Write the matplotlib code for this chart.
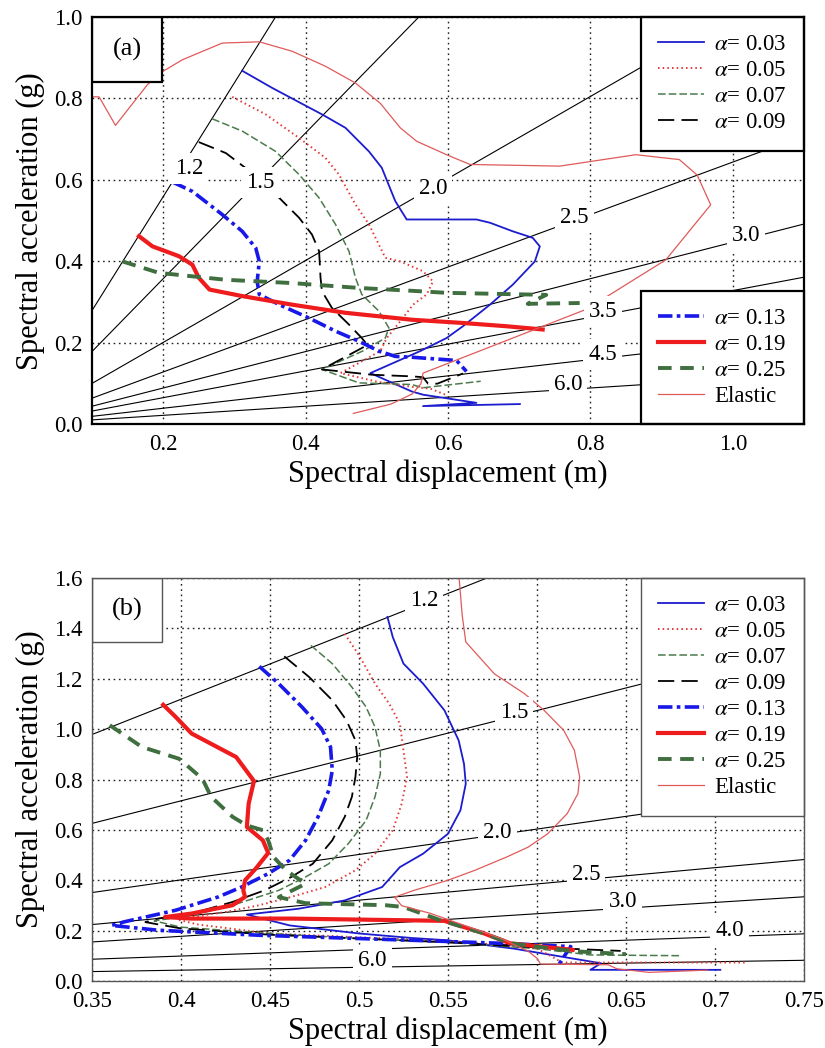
import matplotlib.pyplot as plt
import numpy as np
from matplotlib.patches import Rectangle
from matplotlib.ticker import FuncFormatter

plt.rcParams['font.family'] = ['Liberation Serif', 'DejaVu Serif']
plt.rcParams['mathtext.fontset'] = 'stix'

g = 9.81
names = [r'$\alpha$= 0.03', r'$\alpha$= 0.05', r'$\alpha$= 0.07', r'$\alpha$= 0.09',
         r'$\alpha$= 0.13', r'$\alpha$= 0.19', r'$\alpha$= 0.25', 'Elastic']

# ---- panel (a) curves: spectral displacement (m) / spectral acceleration (g)
a_sd_003 = [0.311, 0.353, 0.423, 0.456, 0.489, 0.507, 0.526, 0.542, 0.640, 0.659, 0.691, 0.719, 0.729,
            0.722, 0.691, 0.659, 0.621, 0.598, 0.561, 0.491, 0.549, 0.565, 0.640, 0.565, 0.701]
a_sa_003 = [0.868, 0.826, 0.761, 0.728, 0.670, 0.630, 0.548, 0.503, 0.503, 0.495, 0.474, 0.458, 0.437,
            0.400, 0.343, 0.294, 0.241, 0.212, 0.180, 0.126, 0.081, 0.073, 0.053, 0.045, 0.050]
a_sd_005 = [0.297, 0.344, 0.391, 0.428, 0.447, 0.470, 0.489, 0.503, 0.512, 0.533, 0.565, 0.579, 0.570,
            0.551, 0.533, 0.514, 0.505, 0.449, 0.500, 0.550, 0.575, 0.598]
a_sa_005 = [0.804, 0.761, 0.703, 0.654, 0.613, 0.540, 0.491, 0.441, 0.409, 0.400, 0.376, 0.351, 0.319,
            0.294, 0.253, 0.212, 0.180, 0.126, 0.105, 0.092, 0.088, 0.072]
a_sd_007 = [0.269, 0.311, 0.358, 0.391, 0.419, 0.442, 0.461, 0.470, 0.479, 0.503, 0.517, 0.512, 0.480,
            0.423, 0.475, 0.549, 0.565, 0.646]
a_sa_007 = [0.750, 0.720, 0.670, 0.613, 0.556, 0.491, 0.425, 0.360, 0.319, 0.278, 0.237, 0.212, 0.180,
            0.135, 0.102, 0.098, 0.090, 0.106]
a_sd_009 = [0.250, 0.288, 0.316, 0.340, 0.363, 0.391, 0.409, 0.419, 0.421, 0.423, 0.437, 0.461, 0.479,
            0.487, 0.423, 0.493, 0.549, 0.565, 0.572, 0.585, 0.621]
a_sa_009 = [0.693, 0.666, 0.629, 0.592, 0.556, 0.507, 0.466, 0.425, 0.360, 0.327, 0.286, 0.245, 0.212,
            0.195, 0.135, 0.122, 0.118, 0.116, 0.100, 0.100, 0.125]
a_sd_013 = [0.213, 0.241, 0.283, 0.311, 0.330, 0.335, 0.332, 0.335, 0.363, 0.405, 0.442, 0.475, 0.503,
            0.526, 0.549, 0.612, 0.626]
a_sa_013 = [0.595, 0.572, 0.515, 0.474, 0.433, 0.400, 0.351, 0.319, 0.294, 0.261, 0.229, 0.204, 0.180,
            0.167, 0.165, 0.157, 0.130]
a_sd_019 = [0.166, 0.185, 0.222, 0.241, 0.250, 0.265, 0.311, 0.381, 0.456, 0.549, 0.621, 0.682, 0.733]
a_sa_019 = [0.462, 0.437, 0.413, 0.392, 0.360, 0.331, 0.315, 0.294, 0.274, 0.257, 0.249, 0.241, 0.233]
a_sd_025 = [0.143, 0.194, 0.288, 0.381, 0.475, 0.549, 0.598, 0.738, 0.712, 0.785]
a_sa_025 = [0.400, 0.372, 0.355, 0.347, 0.335, 0.328, 0.323, 0.318, 0.296, 0.298]
a_sd_el = [0.100, 0.110, 0.133, 0.178, 0.201, 0.227, 0.283, 0.335, 0.381, 0.428, 0.470, 0.505, 0.533,
           0.556, 0.598, 0.631, 0.757, 0.864, 0.925, 0.950, 0.969, 0.906, 0.827, 0.792, 0.565, 0.562,
           0.550, 0.520, 0.467]
a_sa_el = [0.804, 0.804, 0.734, 0.834, 0.868, 0.895, 0.936, 0.939, 0.916, 0.879, 0.838, 0.788, 0.728,
           0.695, 0.662, 0.638, 0.634, 0.662, 0.650, 0.612, 0.539, 0.404, 0.318, 0.281, 0.126, 0.100,
           0.075, 0.050, 0.027]

# ---- panel (b) curves
b_sd_003 = [0.516, 0.519, 0.525, 0.536, 0.548, 0.556, 0.559, 0.560, 0.557, 0.550, 0.536, 0.523, 0.513,
            0.492, 0.466, 0.437, 0.461, 0.500, 0.530, 0.550, 0.587, 0.636, 0.630, 0.703]
b_sa_003 = [1.444, 1.364, 1.259, 1.180, 1.074, 0.955, 0.862, 0.783, 0.678, 0.585, 0.506, 0.453, 0.374,
            0.321, 0.288, 0.265, 0.222, 0.190, 0.172, 0.163, 0.130, 0.072, 0.046, 0.046]
b_sd_005 = [0.492, 0.500, 0.509, 0.517, 0.523, 0.525, 0.527, 0.524, 0.519, 0.509, 0.498, 0.481, 0.462,
            0.444, 0.425, 0.406, 0.398, 0.410, 0.450, 0.500, 0.550, 0.580, 0.600, 0.608, 0.614, 0.718]
b_sa_005 = [1.377, 1.292, 1.180, 1.100, 1.021, 0.915, 0.810, 0.704, 0.599, 0.506, 0.440, 0.374, 0.335,
            0.302, 0.275, 0.255, 0.245, 0.225, 0.190, 0.175, 0.160, 0.145, 0.130, 0.100, 0.075, 0.075]
b_sd_007 = [0.473, 0.485, 0.496, 0.504, 0.509, 0.512, 0.512, 0.509, 0.504, 0.494, 0.483, 0.470, 0.455,
            0.429, 0.406, 0.385, 0.400, 0.450, 0.500, 0.550, 0.600, 0.630, 0.681]
b_sa_007 = [1.331, 1.259, 1.166, 1.087, 1.008, 0.915, 0.823, 0.731, 0.638, 0.546, 0.466, 0.414, 0.361,
            0.302, 0.262, 0.240, 0.215, 0.190, 0.170, 0.155, 0.130, 0.105, 0.102]
b_sd_009 = [0.458, 0.472, 0.485, 0.493, 0.498, 0.499, 0.498, 0.496, 0.492, 0.485, 0.474, 0.462, 0.447,
            0.429, 0.406, 0.387, 0.380, 0.400, 0.450, 0.500, 0.550, 0.600, 0.647]
b_sa_009 = [1.288, 1.206, 1.114, 1.034, 0.955, 0.889, 0.810, 0.731, 0.652, 0.559, 0.466, 0.414, 0.361,
            0.315, 0.269, 0.249, 0.235, 0.210, 0.185, 0.170, 0.155, 0.135, 0.121]
b_sd_013 = [0.444, 0.455, 0.468, 0.479, 0.484, 0.485, 0.483, 0.477, 0.470, 0.461, 0.449, 0.434, 0.421,
            0.397, 0.368, 0.361, 0.387, 0.444, 0.530, 0.585, 0.619, 0.615, 0.612]
b_sa_013 = [1.248, 1.179, 1.087, 1.001, 0.929, 0.836, 0.757, 0.652, 0.559, 0.480, 0.427, 0.374, 0.335,
            0.282, 0.236, 0.222, 0.203, 0.183, 0.163, 0.150, 0.138, 0.097, 0.064]
b_sd_019 = [0.390, 0.397, 0.406, 0.431, 0.441, 0.438, 0.437, 0.446, 0.449, 0.442, 0.436, 0.435, 0.436,
            0.429, 0.406, 0.391, 0.406, 0.462, 0.530, 0.548, 0.570, 0.585, 0.620]
b_sa_019 = [1.096, 1.048, 0.982, 0.889, 0.794, 0.704, 0.612, 0.559, 0.509, 0.447, 0.401, 0.361, 0.335,
            0.302, 0.269, 0.255, 0.249, 0.249, 0.242, 0.240, 0.191, 0.151, 0.125]
b_sd_025 = [0.360, 0.378, 0.399, 0.412, 0.417, 0.429, 0.437, 0.446, 0.449, 0.452, 0.459, 0.470, 0.455,
            0.470, 0.515, 0.525, 0.546, 0.570, 0.585, 0.620, 0.650]
b_sa_025 = [1.015, 0.929, 0.882, 0.803, 0.731, 0.652, 0.618, 0.599, 0.559, 0.493, 0.440, 0.387, 0.334,
            0.310, 0.302, 0.295, 0.242, 0.191, 0.151, 0.120, 0.108]
b_sd_el = [0.556, 0.558, 0.560, 0.576, 0.593, 0.604, 0.615, 0.621, 0.624, 0.623, 0.617, 0.606, 0.595,
           0.583, 0.565, 0.550, 0.531, 0.520, 0.524, 0.540, 0.560, 0.580, 0.595, 0.600, 0.602, 0.640,
           0.645, 0.663, 0.696]
b_sa_el = [1.620, 1.450, 1.345, 1.219, 1.140, 1.074, 0.995, 0.916, 0.810, 0.744, 0.665, 0.585, 0.532,
           0.493, 0.440, 0.401, 0.361, 0.334, 0.300, 0.270, 0.220, 0.170, 0.120, 0.092, 0.069, 0.066,
           0.050, 0.036, 0.045]

# constant period lines (s)
a_periods = [1.2, 1.5, 2.0, 2.5, 3.0, 3.5, 4.5, 6.0]
b_periods = [1.2, 1.5, 2.0, 2.5, 3.0, 4.0, 6.0]
a_period_txt = ['1.2', '1.5', '2.0', '2.5', '3.0', '3.5', '4.5', '6.0']
b_period_txt = ['1.2', '1.5', '2.0', '2.5', '3.0', '4.0', '6.0']
# where the period labels sit
a_lab_pos = [(0.236, 0.629), (0.337, 0.593), (0.579, 0.580), (0.778, 0.507), (1.0185, 0.463),
             (0.8175, 0.278), (0.8175, 0.171), (0.7685, 0.098)]
b_lab_pos = [(0.5364, 1.510), (0.5871, 1.067), (0.5777, 0.592), (0.6275, 0.423), (0.6482, 0.315),
             (0.7083, 0.201), (0.5075, 0.084)]

styles = [
    dict(color='#1c1ccf', ls='-', lw=1.3),
    dict(color='#e23a3a', ls=(0, (0.8, 1.6)), lw=1.4),
    dict(color='#4b7a4b', ls=(0, (5, 2)), lw=1.1),
    dict(color='black', ls=(0, (9, 4)), lw=1.3),
    dict(color='#1818e8', ls=(0, (4, 1.2, 1, 1.2)), lw=2.6),
    dict(color='#ee1c1c', ls='-', lw=3.0),
    dict(color='#3f6e3f', ls=(0, (3.5, 2.2)), lw=2.8),
    dict(color='#e05a5a', ls='-', lw=0.9),
]

a_curves = [(a_sd_003, a_sa_003), (a_sd_005, a_sa_005), (a_sd_007, a_sa_007), (a_sd_009, a_sa_009),
            (a_sd_013, a_sa_013), (a_sd_019, a_sa_019), (a_sd_025, a_sa_025), (a_sd_el, a_sa_el)]
b_curves = [(b_sd_003, b_sa_003), (b_sd_005, b_sa_005), (b_sd_007, b_sa_007), (b_sd_009, b_sa_009),
            (b_sd_013, b_sa_013), (b_sd_019, b_sa_019), (b_sd_025, b_sa_025), (b_sd_el, b_sa_el)]

fig = plt.figure(figsize=(8.25, 10.48), dpi=100)
ax1 = fig.add_axes([0.1115, 0.595, 0.863, 0.3888])
ax2 = fig.add_axes([0.1115, 0.0635, 0.863, 0.3854])


def draw_panel(ax, curves, periods, ptxt, ppos, xmax, tag, frame_c, frame_w):
    sd = np.array([0.0, xmax + 0.1])
    for T in periods:
        k = (2 * np.pi / T) ** 2 / g
        ax.plot(sd, k * sd, color='black', lw=0.8, zorder=2)
    lines = []
    for (x, y), st in zip(curves, styles):
        ln, = ax.plot(x, y, zorder=3, **st)
        lines.append(ln)
    for t, (px, py) in zip(ptxt, ppos):
        ax.text(px, py, t, fontsize=16.5, ha='center', va='center', zorder=5,
                bbox=dict(boxstyle='square,pad=0.22', fc='white', ec='none'))
    ax.grid(True, ls=(0, (1.2, 2.6)), color='#222222', lw=1.0)
    ax.set_axisbelow(True)
    ax.tick_params(length=0, labelsize=16.5, pad=7)
    for s in ax.spines.values():
        s.set_color(frame_c)
        s.set_linewidth(frame_w)
        s.set_zorder(12)
    ax.add_patch(Rectangle((0, 0.84), 0.099, 0.16, transform=ax.transAxes, fc='white',
                           ec=frame_c, lw=frame_w, zorder=8))
    ax.text(0.0495, 0.92, tag, transform=ax.transAxes, fontsize=19, ha='center', va='center',
            zorder=9)
    ax.set_xlabel('Spectral displacement (m)', fontsize=22, labelpad=3)
    ax.set_ylabel('Spectral acceleration (g)', fontsize=22, labelpad=6)
    return lines


leg_kw = dict(fontsize=16.5, framealpha=1, fancybox=False, borderaxespad=0, handlelength=2.0,
              handletextpad=0.45, labelspacing=0.22, borderpad=0.75)

# ---- (a)
la = draw_panel(ax1, a_curves, a_periods, a_period_txt, a_lab_pos, 1.1, '(a)', 'black', 1.6)
ax1.set_xlim(0.1, 1.1)
ax1.set_ylim(0, 1.0)
ax1.set_xticks([0.2, 0.4, 0.6, 0.8, 1.0])
ax1.set_yticks([0.0, 0.2, 0.4, 0.6, 0.8, 1.0])
ax1.xaxis.set_major_formatter(FuncFormatter(lambda v, p: '%.1f' % v))
ax1.yaxis.set_major_formatter(FuncFormatter(lambda v, p: '%.1f' % v))
leg1 = ax1.legend(la[:4], names[:4], loc='upper right', edgecolor='black', **leg_kw)
leg1.get_frame().set_linewidth(1.6)
leg1.set_zorder(10)
ax1.add_artist(leg1)
leg2 = ax1.legend(la[4:], names[4:], loc='lower right', edgecolor='black', **leg_kw)
leg2.get_frame().set_linewidth(1.6)
leg2.set_zorder(10)

# ---- (b)
lb = draw_panel(ax2, b_curves, b_periods, b_period_txt, b_lab_pos, 0.75, '(b)', '#555555', 1.0)
ax2.set_xlim(0.35, 0.75)
ax2.set_ylim(0, 1.6)
ax2.set_xticks([0.35, 0.4, 0.45, 0.5, 0.55, 0.6, 0.65, 0.7, 0.75])
ax2.set_yticks([0.0, 0.2, 0.4, 0.6, 0.8, 1.0, 1.2, 1.4, 1.6])
ax2.xaxis.set_major_formatter(FuncFormatter(lambda v, p: '%g' % round(v, 2)))
ax2.yaxis.set_major_formatter(FuncFormatter(lambda v, p: '%.1f' % v))
leg3 = ax2.legend(lb, names, loc='upper right', edgecolor='#555555', **leg_kw)
leg3.get_frame().set_linewidth(1.0)
leg3.set_zorder(10)

fig.savefig('out.png', dpi=100)
